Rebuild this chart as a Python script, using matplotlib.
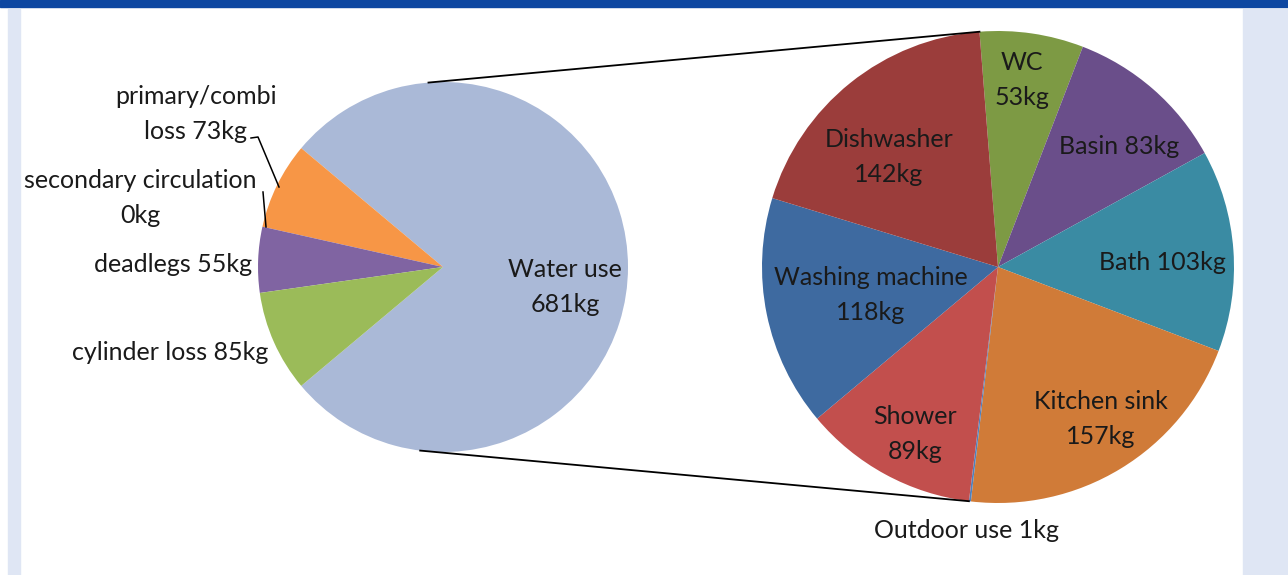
import numpy as np
import matplotlib
matplotlib.use("Agg")
import matplotlib.pyplot as plt
from matplotlib.patches import Rectangle

# ---- data ----
main_labels = ["Water use", "primary/combi loss", "secondary circulation", "deadlegs", "cylinder loss"]
main_values = [681, 73, 0, 55, 85]
main_colors = ["#AAB9D7", "#F79646", "#8064A2", "#8064A2", "#9BBB59"]

sub_labels = ["WC", "Basin", "Bath", "Kitchen sink", "Outdoor use", "Shower",
              "Washing machine", "Dishwasher"]
sub_values = [53, 83, 103, 157, 1, 89, 118, 142]
sub_colors = ["#7D9A44", "#6A4E8A", "#3A8BA3", "#D07B38", "#4F81BD", "#C24F4D",
              "#3E6AA0", "#9B3D3B"]

# label text per slice (line breaks as Excel wrapped them)
main_text = ["Water use\n681kg", "primary/combi\nloss 73kg", "secondary circulation\n0kg",
             "deadlegs 55kg", "cylinder loss 85kg"]
sub_text = ["WC\n53kg", "Basin 83kg", "Bath 103kg", "Kitchen sink\n157kg",
            "Outdoor use 1kg", "Shower\n89kg", "Washing machine\n118kg", "Dishwasher\n142kg"]

# ---- layout (pixel space, y measured from top) ----
W, H = 1288, 575
left_c, left_r = (443, 267), 185
right_c, right_r = (998, 267), 236
sub_start = 94.5

main_pos = [(565, 287), (196, 114), (140, 198), (173, 265), (170, 352)]
sub_pos = [(1022, 80), (1119, 147), (1162, 263), (1101, 419), (967, 531),
           (915, 434), (871, 295), (889, 157)]


def up(y):
    return H - y


plt.rcParams['font.family'] = ['Lato', 'DejaVu Sans']
fig = plt.figure(figsize=(W / 100, H / 100), dpi=100)
ax = fig.add_axes([0, 0, 1, 1])

# page background
ax.add_patch(Rectangle((0, up(7)), W, 7, color="#0D47A1", zorder=0))
ax.add_patch(Rectangle((8, 0), 12, up(9), color="#DFE6F4", zorder=0))
ax.add_patch(Rectangle((1243, 0), W - 1243, up(9), color="#DFE6F4", zorder=0))

# the "water use" wedge is the sum of the second pie, as Excel does it
sizes = [sum(sub_values)] + main_values[1:]
total = sum(sizes)
small = sum(main_values[1:])
start = 180 - 180 * small / total - 360 * sizes[0] / total

ax.pie(sizes, center=(left_c[0], up(left_c[1])), radius=left_r,
       colors=main_colors, startangle=start, counterclock=True, frame=True,
       wedgeprops=dict(linewidth=0))

ax.pie(sub_values, center=(right_c[0], up(right_c[1])), radius=right_r,
       colors=sub_colors, startangle=sub_start, counterclock=False, frame=True,
       wedgeprops=dict(linewidth=0))

# connector lines between the two pies
sub_total = sum(sub_values)
a_top = sub_start
a_bot = sub_start - 360 * sum(sub_values[:5]) / sub_total
for a in (a_top, a_bot):
    t = np.deg2rad(a)
    x0 = left_c[0] + left_r * np.cos(t)
    y0 = up(left_c[1]) + left_r * np.sin(t)
    x1 = right_c[0] + right_r * np.cos(t)
    y1 = up(right_c[1]) + right_r * np.sin(t)
    ax.plot([x0, x1], [y0, y1], color="black", lw=1.3, zorder=3)

# data labels
fs = 18
for txt, (x, y) in zip(main_text + sub_text, main_pos + sub_pos):
    ax.text(x, up(y), txt, ha="center", va="center", fontsize=fs,
            linespacing=1.6, color="#1a1a1a", zorder=4)

# leader lines for the two small labels
ax.plot([251, 258, 279], [up(138), up(137), up(187)], color="black", lw=1.1, zorder=3)
ax.plot([263, 266], [up(192), up(227)], color="black", lw=1.1, zorder=3)

ax.set_xlim(0, W)
ax.set_ylim(0, H)
ax.set_aspect("equal")
ax.axis("off")

fig.savefig("out.png", dpi=100, facecolor="white")
